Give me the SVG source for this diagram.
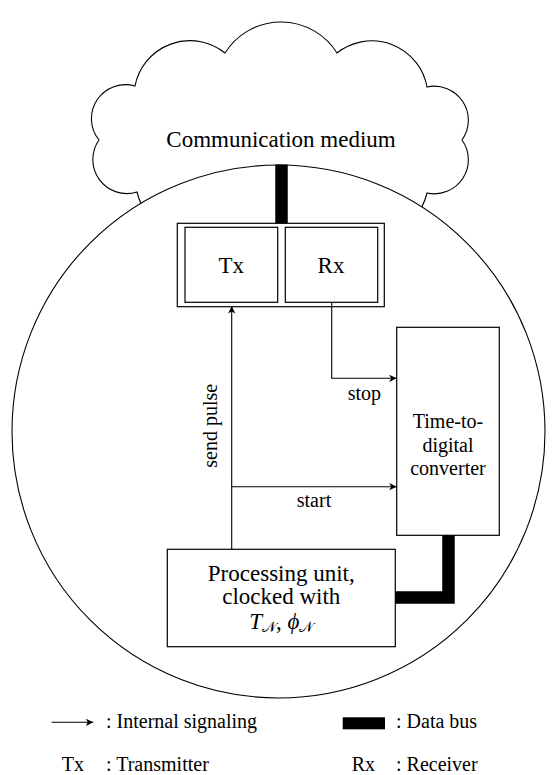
<svg xmlns="http://www.w3.org/2000/svg" width="555" height="775" viewBox="0 0 555 775">
<style>
text{font-family:"Liberation Serif","DejaVu Serif",serif;fill:#000}
.big{font-size:23px}
.mid{font-size:20px}
.box{fill:#fff;stroke:#000;stroke-width:1.2}
.wire{fill:none;stroke:#000;stroke-width:1.1}
.bus{fill:none;stroke:#000;stroke-width:12.5}
</style>
<defs>
<marker id="arr" markerWidth="10" markerHeight="10" refX="0" refY="0" viewBox="-8 -5 10 10" markerUnits="userSpaceOnUse" orient="auto">
<path d="M0,0 L-7.5,-3.6 L-5.5,0 L-7.5,3.6 Z" fill="#000"/>
</marker>
</defs>
<g id="cloud">
<path d="M137,192 A34 34 0 0 1 99,140 A34 34 0 0 1 135,86 A56 56 0 0 1 225,53 A66 66 0 0 1 337,53 A56 56 0 0 1 427,87 A34 34 0 0 1 462,140 A34 34 0 0 1 427,193 A60 60 0 0 1 337,230 A66 66 0 0 1 225,230 A60 60 0 0 1 137,192 Z" fill="#fff" stroke="#000" stroke-width="1.1"/>
<text class="big" x="281" y="147" text-anchor="middle">Communication medium</text>
</g>
<g id="node-circle">
<circle cx="278.5" cy="431.5" r="266.5" fill="#fff" stroke="#000" stroke-width="1.1"/>
</g>
<g id="medium-bus">
<line class="bus" x1="281.5" y1="164.5" x2="281.5" y2="224"/>
</g>
<g id="node-txrx">
<rect class="box" x="177.3" y="223.3" width="207" height="83.4"/>
</g>
<g id="node-tx">
<rect class="box" x="185" y="227.3" width="92.7" height="75"/>
<text class="big" x="231.3" y="273.3" text-anchor="middle">Tx</text>
</g>
<g id="node-rx">
<rect class="box" x="285.3" y="227.3" width="92.4" height="75"/>
<text class="big" x="331" y="273.3" text-anchor="middle">Rx</text>
</g>
<g id="node-tdc">
<rect class="box" x="396.7" y="327.3" width="102.6" height="208"/>
<text class="mid" x="448" y="428.3" text-anchor="middle">Time-to-</text>
<text class="mid" x="448" y="451.7" text-anchor="middle">digital</text>
<text class="mid" x="448" y="474.5" text-anchor="middle">converter</text>
</g>
<g id="node-pu">
<rect class="box" x="167.3" y="549.3" width="228" height="97.4"/>
<text class="big" x="281.3" y="581.2" text-anchor="middle">Processing unit,</text>
<text class="big" x="281.3" y="603.8" text-anchor="middle">clocked with</text>
<text class="big" x="281.3" y="628.5" text-anchor="middle"><tspan font-style="italic">T</tspan><tspan font-size="15" dy="3.5" font-family="'DejaVu Serif',serif">𝒩</tspan><tspan dy="-3.5">, </tspan><tspan font-style="italic">ϕ</tspan><tspan font-size="15" dy="3.5" font-family="'DejaVu Serif',serif">𝒩</tspan></text>
</g>
<g id="connectors">
<path class="wire" d="M231.7,549.3 V306" marker-end="url(#arr)"/>
<path class="wire" d="M331.7,302.3 V378.3 H396.7" marker-end="url(#arr)"/>
<path class="wire" d="M231.7,486.7 H396.7" marker-end="url(#arr)"/>
<path class="bus" d="M448.5,535.3 V597.5 H395.3"/>
<text class="mid" x="364.3" y="400" text-anchor="middle">stop</text>
<text class="mid" x="314" y="507.3" text-anchor="middle">start</text>
<text class="mid" transform="translate(216.7,425.8) rotate(-90)" text-anchor="middle">send pulse</text>
</g>
<g id="legend">
<path class="wire" d="M51.7,722.3 H93.3" marker-end="url(#arr)"/>
<text class="mid" x="106" y="728.3">: Internal signaling</text>
<rect x="342.7" y="717.3" width="42.3" height="12" fill="#000"/>
<text class="mid" x="396" y="728.3">: Data bus</text>
<text class="mid" x="61.7" y="771.3">Tx</text>
<text class="mid" x="106" y="771.3">: Transmitter</text>
<text class="mid" x="351.7" y="771.3">Rx</text>
<text class="mid" x="396" y="771.3">: Receiver</text>
</g>
</svg>
